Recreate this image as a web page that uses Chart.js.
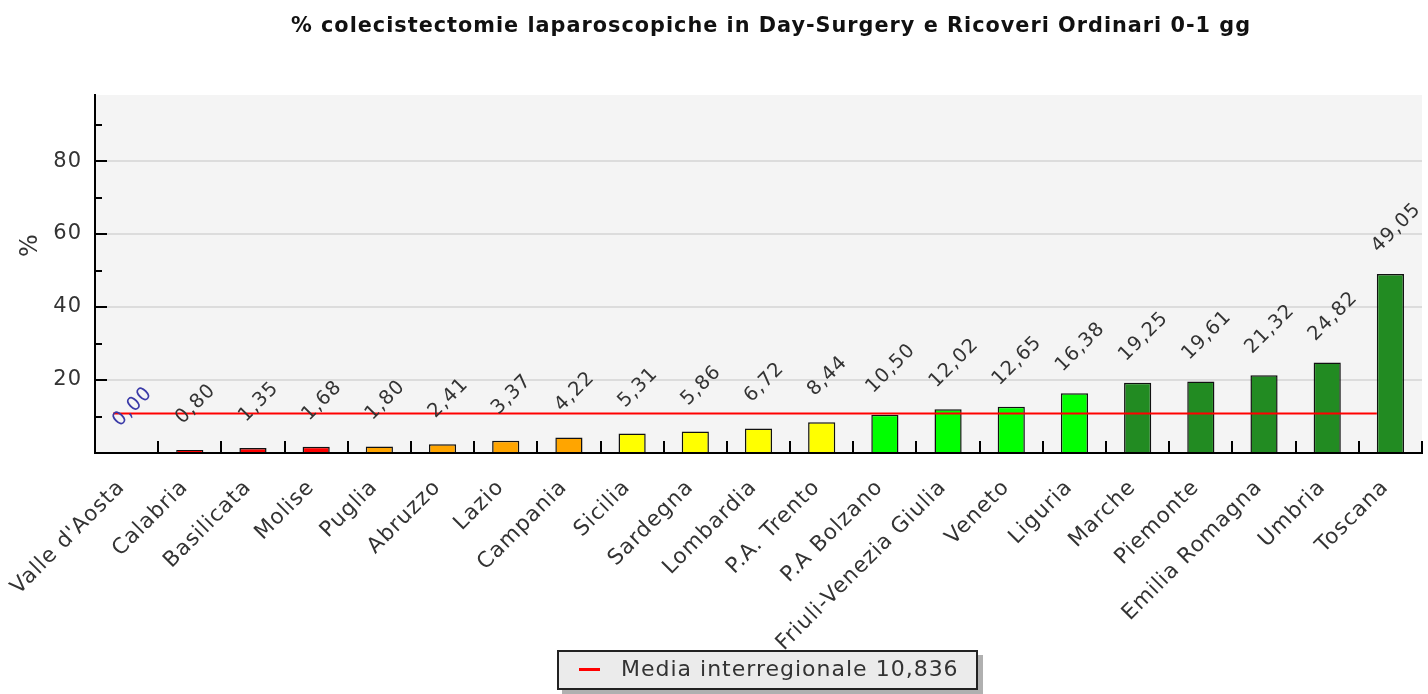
<!DOCTYPE html>
<html>
<head>
<meta charset="utf-8">
<script src="https://cdn.jsdelivr.net/npm/chart.js@4.4.1/dist/chart.umd.min.js"></script>
<style>
    body { margin: 0; background: #fff; }
    #wrap { position: relative; width: 1428px; height: 694px; }
    #legend {
        position: absolute; left: 557px; top: 650px; width: 417px; height: 36px;
        background: #ebebeb; border: 2px solid #222; box-shadow: 5px 5px 0 #b0b0b0;
        font: 22px 'DejaVu Sans', sans-serif; letter-spacing: 1px; color: #333; white-space: nowrap;
    }
    #legend .dash { position: absolute; left: 20px; top: 16px; width: 21px; height: 3px; background: #ff0000; }
    #legend .txt { position: absolute; left: 62px; top: 4px; }
</style>
</head>
<body>
<div id="wrap">
    <canvas id="chart" width="1428" height="694"></canvas>
    <div id="legend"><span class="dash"></span><span class="txt" id="legendText"></span></div>
</div>
<script>
const categories = ["Valle d'Aosta", 'Calabria', 'Basilicata', 'Molise', 'Puglia', 'Abruzzo', 'Lazio', 'Campania', 'Sicilia', 'Sardegna', 'Lombardia', 'P.A. Trento', 'P.A Bolzano', 'Friuli-Venezia Giulia', 'Veneto', 'Liguria', 'Marche', 'Piemonte', 'Emilia Romagna', 'Umbria', 'Toscana'];
const values = [0.00, 0.80, 1.35, 1.68, 1.80, 2.41, 3.37, 4.22, 5.31, 5.86, 6.72, 8.44, 10.50, 12.02, 12.65, 16.38, 19.25, 19.61, 21.32, 24.82, 49.05];
const barColors = ['#ff0000', '#ff0000', '#ff0000', '#ff0000', '#ffa500', '#ffa500', '#ffa500', '#ffa500', '#ffff00', '#ffff00', '#ffff00', '#ffff00', '#00ff00', '#00ff00', '#00ff00', '#00ff00', '#228b22', '#228b22', '#228b22', '#228b22', '#228b22'];
const media = 10.836;
const mediaLabel = 'Media interregionale 10,836';
const yLabelled = [20, 40, 60, 80];
const yMax = 98.1;
const titleText = '% colecistectomie laparoscopiche in Day-Surgery e Ricoveri Ordinari 0-1 gg';
const yTitle = '%';

document.getElementById('legendText').textContent = mediaLabel;

const fmt = (v) => v.toFixed(2).replace('.', ',');

// the source chart uses slightly tracked text; canvas resets state on resize, so set it per pass
const spacing = {
    id: 'spacing',
    beforeUpdate(chart) { chart.ctx.letterSpacing = '1px'; },
    beforeDraw(chart) { chart.ctx.letterSpacing = '1px'; }
};

// background, media line, inward tick marks, rotated value labels, titles
const decor = {
    id: 'decor',
    beforeDraw(chart) {
        const { ctx, chartArea: a } = chart;
        ctx.save();
        ctx.fillStyle = '#f4f4f4';
        ctx.fillRect(a.left, a.top, a.right - a.left, a.bottom - a.top);
        ctx.restore();
    },
    afterDatasetsDraw(chart) {
        const { ctx, chartArea: a, scales } = chart;
        const bars = chart.getDatasetMeta(0).data;
        ctx.save();

        // media line
        const yM = scales.y.getPixelForValue(media);
        const first = bars[0].getProps(['x', 'width'], true);
        const last = bars[bars.length - 1].getProps(['x', 'width'], true);
        ctx.strokeStyle = '#ff0000';
        ctx.lineWidth = 2;
        ctx.beginPath();
        ctx.moveTo(first.x - first.width / 2, yM);
        ctx.lineTo(last.x - last.width / 2, yM);
        ctx.stroke();

        // y tick marks (inward)
        ctx.strokeStyle = '#000';
        ctx.lineWidth = 2;
        for (let v = 10; v < yMax; v += 10) {
            const y = Math.round(scales.y.getPixelForValue(v));
            const len = v % 20 === 0 ? 12 : 7;
            ctx.beginPath();
            ctx.moveTo(a.left, y);
            ctx.lineTo(a.left + len, y);
            ctx.stroke();
        }
        // x tick marks between categories
        for (let i = 1; i <= categories.length; i++) {
            const x = i < categories.length
                ? (scales.x.getPixelForValue(i - 1) + scales.x.getPixelForValue(i)) / 2
                : a.right;
            ctx.beginPath();
            ctx.moveTo(Math.round(x), a.bottom);
            ctx.lineTo(Math.round(x), a.bottom - 12);
            ctx.stroke();
        }

        // value labels, centred above each bar
        ctx.font = "19.5px 'DejaVu Sans', sans-serif";
        ctx.textAlign = 'center';
        ctx.textBaseline = 'middle';
        bars.forEach((bar, i) => {
            const p = bar.getProps(['x', 'y'], true);
            ctx.save();
            ctx.translate(p.x + 6, p.y - 46);
            ctx.rotate(-Math.PI / 4);
            ctx.fillStyle = values[i] === 0 ? '#3a3aa8' : '#333';
            ctx.fillText(fmt(values[i]), 0, 0);
            ctx.restore();
        });

        // y axis title
        ctx.save();
        ctx.font = "24px 'DejaVu Sans', sans-serif";
        ctx.fillStyle = '#333';
        ctx.textAlign = 'center';
        ctx.textBaseline = 'middle';
        ctx.translate(31, 245);
        ctx.rotate(-Math.PI / 2);
        ctx.fillText(yTitle, 0, 0);
        ctx.restore();

        // chart title
        ctx.font = "bold 20.8px 'DejaVu Sans', sans-serif";
        ctx.fillStyle = '#111';
        ctx.textAlign = 'center';
        ctx.textBaseline = 'middle';
        ctx.fillText(titleText, 771, 27);

        ctx.restore();
    }
};

new Chart(document.getElementById('chart').getContext('2d'), {
    type: 'bar',
    data: {
        labels: categories,
        datasets: [{
            label: '%',
            data: values,
            backgroundColor: barColors,
            borderColor: '#111',
            borderWidth: 1.5,
            borderSkipped: 'start',
            categoryPercentage: 1,
            barPercentage: 0.43
        }]
    },
    options: {
        responsive: false,
        animation: false,
        layout: { padding: { left: 0, right: 6, top: 95, bottom: 0 } },
        plugins: {
            legend: { display: false },
            tooltip: { enabled: false },
            title: { display: false }
        },
        scales: {
            x: {
                grid: { display: false },
                border: { display: true, color: '#000', width: 2 },
                ticks: {
                    autoSkip: false,
                    maxRotation: 45,
                    minRotation: 45,
                    padding: 14,
                    labelOffset: -5,
                    color: '#333',
                    font: { family: 'DejaVu Sans', size: 21.5 }
                },
                afterFit: (scale) => { scale.height = 241; }
            },
            y: {
                min: 0,
                max: yMax,
                grid: {
                    drawTicks: false,
                    color: (c) => yLabelled.includes(c.tick.value) ? '#dcdcdc' : 'rgba(0,0,0,0)',
                    lineWidth: 2
                },
                border: { display: true, color: '#000', width: 2 },
                ticks: {
                    stepSize: 10,
                    padding: 13,
                    color: '#333',
                    font: { family: 'DejaVu Sans', size: 21 },
                    callback: (v) => yLabelled.includes(v) ? String(v) : ''
                },
                afterFit: (scale) => { scale.width = 95; }
            }
        }
    },
    plugins: [spacing, decor]
});
</script>
</body>
</html>
